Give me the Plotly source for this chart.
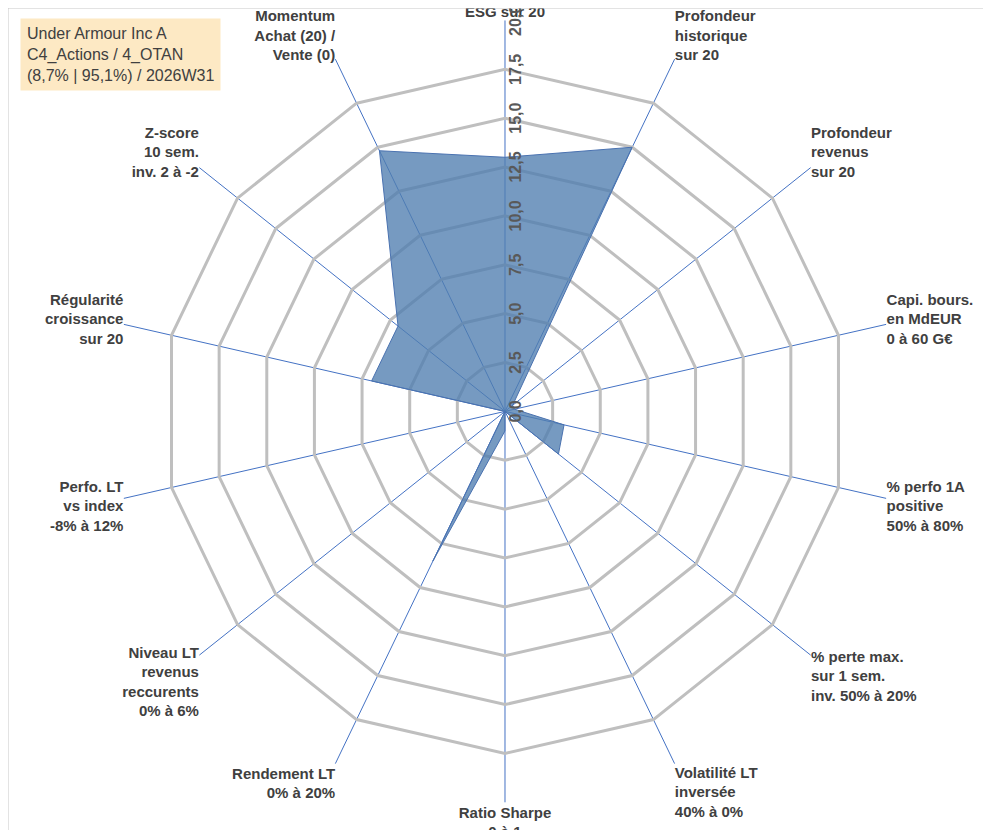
import plotly.graph_objects as go

axes = ["Note<br>ESG sur 20", "Profondeur<br>historique<br>sur 20", "Profondeur<br>revenus<br>sur 20",
        "Capi. bours.<br>en MdEUR<br>0 à 60 G€", "% perfo 1A<br>positive<br>50% à 80%",
        "% perte max.<br>sur 1 sem.<br>inv. 50% à 20%", "Volatilité LT<br>inversée<br>40% à 0%",
        "Ratio Sharpe<br>0 à 1", "Rendement LT<br>0% à 20%", "Niveau LT<br>revenus<br>reccurents<br>0% à 6%",
        "Perfo. LT<br>vs index<br>-8% à 12%", "Régularité<br>croissance<br>sur 20",
        "Z-score<br>10 sem.<br>inv. 2 à -2", "Momentum<br>Achat (20) /<br>Vente (0)"]
values = [13, 15, 0.5, 0.5, 3.1, 3.5, 0, 1, 8.5, 0, 0, 7, 7, 14.8]
tick_vals = [0, 2.5, 5, 7.5, 10, 12.5, 15, 17.5, 20]
tick_text = ["0,0", "2,5", "5,0", "7,5", "10,0", "12,5", "15,0", "17,5", "20,0"]

fig = go.Figure()
fig.add_trace(go.Scatterpolar(
    r=values + values[:1], theta=axes + axes[:1], mode="lines", fill="toself",
    fillcolor="rgba(80,125,175,0.78)", line=dict(color="#4a72b0", width=1),
))

fig.update_layout(
    width=991, height=830, showlegend=False,
    paper_bgcolor="white", plot_bgcolor="white",
    margin=dict(l=0, r=0, t=0, b=0),
    font=dict(family="Liberation Sans, Arial", size=15, color="#404040"),
    polar=dict(
        domain=dict(x=[0.107, 0.896], y=[0.043, 0.985]),
        gridshape="linear", bgcolor="white",
        angularaxis=dict(rotation=90, direction="clockwise", showline=False,
                         gridcolor="#4472c4", gridwidth=1.2,
                         tickfont=dict(size=15, color="#404040", family="Liberation Sans, Arial", weight="bold"),
                         ticks=""),
        radialaxis=dict(range=[0, 20], angle=90, tickvals=tick_vals, ticktext=tick_text,
                        showline=False, gridcolor="#bfbfbf", gridwidth=3, ticks="",
                        tickfont=dict(size=16, color="#595959", weight="bold")),
    ),
)
fig.add_shape(type="rect", xref="paper", yref="paper", x0=0, y0=0, x1=1, y1=1,
              line=dict(color="#c8c8c8", width=1))
fig.add_annotation(xref="paper", yref="paper", x=0.012, y=0.988, xanchor="left", yanchor="top",
                   align="left", showarrow=False, bgcolor="#fde9c4", borderpad=6,
                   text="Under Armour Inc A<br>C4_Actions / 4_OTAN<br>(8,7% | 95,1%) / 2026W31",
                   font=dict(size=16, color="#404040", family="Liberation Sans, Arial"))
fig.write_html("out.html")
